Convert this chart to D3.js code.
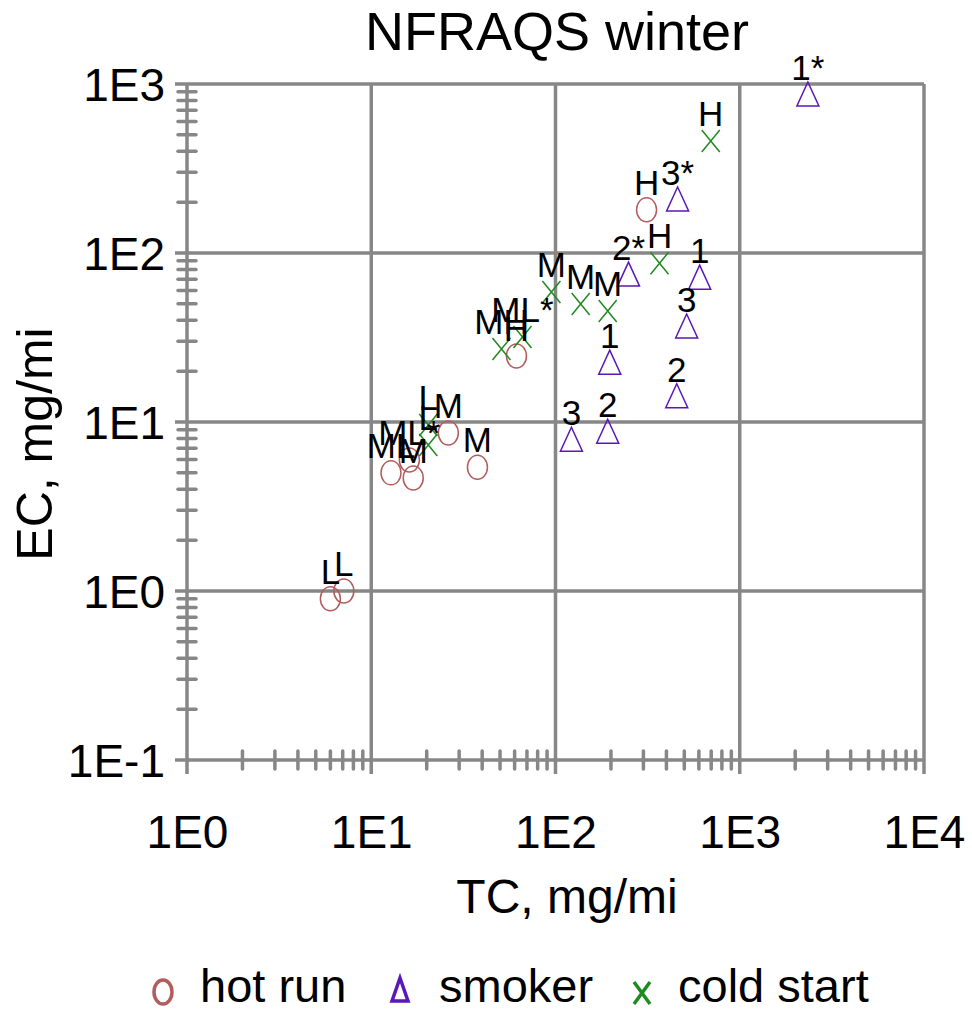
<!DOCTYPE html>
<html><head><meta charset="utf-8">
<script src="https://cdn.jsdelivr.net/npm/d3@7/dist/d3.min.js"></script>
<style>
body{margin:0;background:#fff;}
text{font-family:"Liberation Sans",Arial,sans-serif;fill:#000;}
</style></head>
<body><svg id="c" width="972" height="1012"></svg>
<script>
// ---- data ----
const hotRunTC = [6.0, 7.1, 12.8, 16.1, 16.9, 26.2, 37.7, 61.4, 312];
const hotRunEC = [0.90, 1.0, 5.0, 5.96, 4.66, 8.6, 5.4, 24.6, 180];
const hotRunLabels = ["L", "L", "ML", "ML*", "M", "M", "M", "H", "H"];

const smokerTC = [2343, 460, 249, 606, 515, 197, 455, 122, 192];
const smokerEC = [861, 206, 74, 71, 36.5, 22.3, 14.1, 7.8, 8.7];
const smokerLabels = ["1*", "3*", "2*", "1", "3", "1", "2", "3", "2"];

const coldTC = [696, 367, 95, 137, 192, 50.9, 66.2, 20.4, 20.4];
const coldEC = [460, 87, 58.8, 49.9, 45.4, 27, 31.8, 9.6, 7.3];
const coldLabels = ["H", "H", "M", "M", "M", "MH", "ML*", "L", "L"];

const xTicks = [1, 10, 100, 1000, 10000];
const yTicks = [0.1, 1, 10, 100, 1000];
const seriesNames = ["hot run", "smoker", "cold start"];

// ---- drawing ----
const svg = d3.select("#c");
const x = d3.scaleLog().domain([1, 10000]).range([187, 924]);
const y = d3.scaleLog().domain([0.1, 1000]).range([760, 84]);
const gridCol = "#878787";
const cols = {hot: "#b35c5c", smoke: "#5a18b8", cold: "#1f8a1f"};
const fmt = d => "1E" + Math.round(Math.log10(d));

// minor ticks
const minors = [];
for (let e = 0; e < 4; e++) for (let k = 2; k <= 9; k++) minors.push(k * Math.pow(10, e));
const yMinors = [];
for (let e = -1; e < 3; e++) for (let k = 2; k <= 9; k++) yMinors.push(k * Math.pow(10, e));

const g = svg.append("g");
// gridlines
g.selectAll(".vg").data(xTicks).enter().append("line")
  .attr("x1", d => x(d)).attr("x2", d => x(d))
  .attr("y1", y(1000)).attr("y2", y(0.1) + 14)
  .attr("stroke", gridCol).attr("stroke-width", 3.5);
g.selectAll(".hg").data(yTicks).enter().append("line")
  .attr("x1", x(1) - 12).attr("x2", x(10000))
  .attr("y1", d => y(d)).attr("y2", d => y(d))
  .attr("stroke", gridCol).attr("stroke-width", 3.5);
// minor ticks
g.selectAll(".xm").data(minors).enter().append("line")
  .attr("x1", d => x(d)).attr("x2", d => x(d))
  .attr("y1", y(0.1) - 9).attr("y2", y(0.1) + 9)
  .attr("stroke", gridCol).attr("stroke-width", 3.5).attr("stroke-linecap", "round");
g.selectAll(".ym").data(yMinors).enter().append("line")
  .attr("x1", x(1) - 9).attr("x2", x(1) + 9)
  .attr("y1", d => y(d)).attr("y2", d => y(d))
  .attr("stroke", gridCol).attr("stroke-width", 3.5).attr("stroke-linecap", "round");

// axes labels via d3 axes (no lines)
const xa = svg.append("g").attr("transform", `translate(0,${y(0.1)})`)
  .call(d3.axisBottom(x).tickValues(xTicks).tickFormat(fmt).tickSize(0).tickPadding(55));
const ya = svg.append("g").attr("transform", `translate(${x(1)},0)`)
  .call(d3.axisLeft(y).tickValues(yTicks).tickFormat(fmt).tickSize(0).tickPadding(22));
[xa, ya].forEach(a => {
  a.select(".domain").remove();
  a.selectAll("text").attr("font-size", 46).attr("font-family", '"Liberation Sans",Arial,sans-serif').attr("fill", "#000");
});
ya.selectAll("text").attr("dy", "0.36em");

// title & axis titles
svg.append("text").attr("x", 557).attr("y", 50).attr("text-anchor", "middle")
  .attr("font-size", 54).text("NFRAQS winter");
svg.append("text").attr("x", 567).attr("y", 913).attr("text-anchor", "middle")
  .attr("font-size", 48).text("TC, mg/mi");
svg.append("text").attr("transform", "translate(52,444) rotate(-90)").attr("text-anchor", "middle")
  .attr("font-size", 50).text("EC, mg/mi");

// markers
const plot = svg.append("g");
function circleM(sel, sw) {
  sel.append("ellipse").attr("rx", 10).attr("ry", 12).attr("fill", "none")
    .attr("stroke", cols.hot).attr("stroke-width", sw);
}
function triM(sel, sw) {
  sel.append("path").attr("d", "M0,-13L11,11L-11,11Z").attr("fill", "none")
    .attr("stroke", cols.smoke).attr("stroke-width", sw);
}
function xM(sel, sw) {
  sel.append("path").attr("d", "M-9,-11L9,11M9,-11L-9,11")
    .attr("stroke", cols.cold).attr("stroke-width", sw).attr("fill", "none");
}
function series(tc, ec, labels, marker) {
  const data = tc.map((v, i) => ({tc: v, ec: ec[i], label: labels[i]}));
  const s = plot.append("g");
  const pts = s.selectAll("g").data(data).enter().append("g")
    .attr("transform", d => `translate(${x(d.tc)},${y(d.ec)})`);
  marker(pts, 1.5);
  return data;
}
const dHot = series(hotRunTC, hotRunEC, hotRunLabels, circleM);
const dSmoke = series(smokerTC, smokerEC, smokerLabels, triM);
const dCold = series(coldTC, coldEC, coldLabels, xM);
const labelG = svg.append("g");
[dHot, dSmoke, dCold].forEach(data => {
  labelG.selectAll(null).data(data).enter().append("text")
    .attr("x", d => x(d.tc)).attr("y", d => y(d.ec) - 15)
    .attr("text-anchor", "middle").attr("font-size", 35).text(d => d.label);
});

// legend
const leg = svg.append("g");
const lg1 = leg.append("g").attr("transform", "translate(163,992)");
lg1.append("ellipse").attr("rx", 9).attr("ry", 12).attr("fill", "none").attr("stroke", cols.hot).attr("stroke-width", 3.5);
const lg2 = leg.append("g").attr("transform", "translate(400,990)");
lg2.append("path").attr("d", "M0,-12L8,11L-8,11Z").attr("fill", "none").attr("stroke", cols.smoke).attr("stroke-width", 3.5);
const lg3 = leg.append("g").attr("transform", "translate(642,993)");
lg3.append("path").attr("d", "M-8,-11L8,11M8,-11L-8,11").attr("stroke", cols.cold).attr("stroke-width", 3.5);
const legX = [200, 439, 678];
seriesNames.forEach((n, i) => {
  leg.append("text").attr("x", legX[i]).attr("y", 1002).attr("font-size", 47).text(n);
});
</script></body></html>
